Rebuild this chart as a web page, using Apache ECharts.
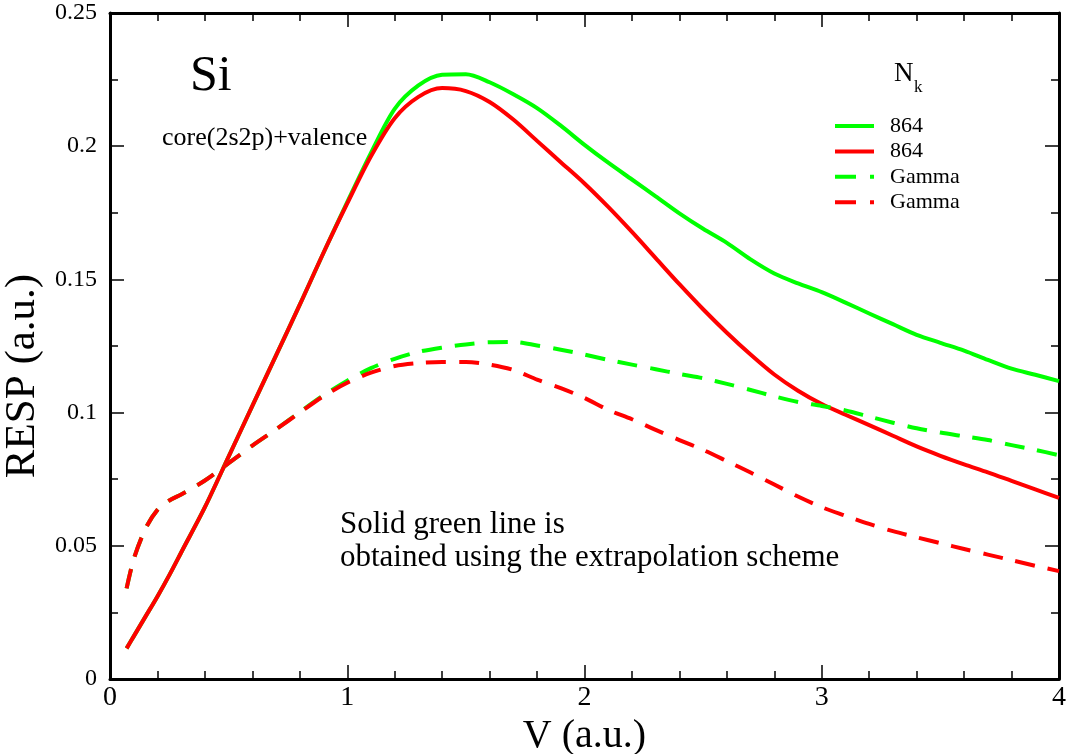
<!DOCTYPE html>
<html>
<head>
<meta charset="utf-8">
<title>Si response</title>
<script src="https://cdn.jsdelivr.net/npm/echarts@6/dist/echarts.min.js"></script>
<style>
  html, body { margin: 0; padding: 0; background: #fff; }
  #chart { width: 1071px; height: 754px; }
</style>
</head>
<body>
<div id="chart"></div>
<script>
// Velocity grid (a.u.)
const V = [0.07, 0.1, 0.15, 0.2, 0.25, 0.3, 0.4, 0.5, 0.6, 0.7, 0.8, 0.9,
  1.0, 1.1, 1.2, 1.3, 1.4, 1.5, 1.6, 1.7, 1.8, 1.9,
  2.0, 2.1, 2.2, 2.3, 2.4, 2.5, 2.6, 2.7, 2.8, 2.9,
  3.0, 3.1, 3.2, 3.3, 3.4, 3.5, 3.6, 3.7, 3.8, 3.9, 4.0];

// 864 k-points, extrapolated (solid green)
const resp864Extrap = [0.0115, 0.016, 0.0235, 0.031, 0.039, 0.0475, 0.0645, 0.0835, 0.1025, 0.1215, 0.1405, 0.160,
  0.179, 0.1975, 0.2140, 0.2228, 0.2268, 0.2270, 0.2240, 0.2195, 0.2143, 0.2077,
  0.2005, 0.1938, 0.1875, 0.1812, 0.1748, 0.1690, 0.1637, 0.1575, 0.1522, 0.1485,
  0.1452, 0.1413, 0.1372, 0.1332, 0.1292, 0.1262, 0.1233, 0.1198, 0.1165, 0.1142, 0.1118];

// 864 k-points (solid red)
const resp864 = [0.0115, 0.016, 0.0235, 0.031, 0.039, 0.0475, 0.0645, 0.0835, 0.1025, 0.1215, 0.1405, 0.160,
  0.1785, 0.1962, 0.2105, 0.2185, 0.2218, 0.2207, 0.2166, 0.2100, 0.2020, 0.1940,
  0.1860, 0.1772, 0.1678, 0.1580, 0.1482, 0.1388, 0.1300, 0.1218, 0.1143, 0.1082,
  0.1032, 0.0992, 0.0953, 0.0913, 0.0873, 0.0838, 0.0806, 0.0776, 0.0744, 0.0712, 0.0680];

// Gamma point only (dashed green)
const respGammaGreen = [0.034, 0.045, 0.0565, 0.0635, 0.067, 0.0693, 0.0745, 0.081, 0.0876, 0.0937, 0.1002, 0.1065,
  0.1120, 0.1167, 0.1202, 0.1228, 0.1244, 0.1256, 0.1264, 0.1265, 0.1252, 0.1236,
  0.1218, 0.1198, 0.1180, 0.1163, 0.1145, 0.1129, 0.1108, 0.1085, 0.1061, 0.1040,
  0.1025, 0.1008, 0.0985, 0.0962, 0.0941, 0.0925, 0.0911, 0.0897, 0.0878, 0.0860, 0.0840];

// Gamma point only (dashed red)
const respGammaRed = [0.034, 0.045, 0.0565, 0.0635, 0.067, 0.0693, 0.0745, 0.081, 0.0876, 0.0937, 0.1000, 0.1062,
  0.1112, 0.1150, 0.1175, 0.1186, 0.1190, 0.1190, 0.1180, 0.1160, 0.1124, 0.1092,
  0.1055, 0.1010, 0.0975, 0.0935, 0.0897, 0.0860, 0.0818, 0.0775, 0.0730, 0.0685,
  0.0645, 0.0613, 0.0582, 0.0555, 0.0532, 0.0510, 0.0488, 0.0467, 0.0446, 0.0425, 0.0405];

const seriesNames = ['864 (extrapolated)', '864', 'Gamma (green)', 'Gamma'];
const legendLabels = ['864', '864', 'Gamma', 'Gamma'];

const FONT = 'Liberation Serif';
const GREEN = '#00ff00';
const RED = '#ff0000';
const DASH = [20, 13];

function pairs(ys) { return V.map((v, i) => [v, ys[i]]); }

function lineSeries(name, ys, color, dashed) {
  return {
    name: name,
    type: 'line',
    data: pairs(ys),
    symbol: 'none',
    smooth: 0.3,
    xAxisIndex: 0,
    yAxisIndex: 0,
    lineStyle: { color: color, width: 4, type: dashed ? DASH : 'solid', cap: 'butt', join: 'round' },
    itemStyle: { color: color },
    emphasis: { disabled: true },
    animation: false
  };
}

function frameAxis(pos, isX, showLabel) {
  return {
    type: 'value',
    position: pos,
    min: 0,
    max: isX ? 4 : 0.25,
    interval: isX ? 1 : 0.05,
    axisLine: { show: true, onZero: false, lineStyle: { color: '#000', width: 3 } },
    axisTick: { show: true, inside: true, length: 14, lineStyle: { color: '#000', width: 1.5 } },
    minorTick: { show: true, splitNumber: isX ? 5 : 2, length: 8, lineStyle: { color: '#000', width: 1.5 } },
    splitLine: { show: false },
    minorSplitLine: { show: false },
    axisLabel: { show: showLabel, color: '#000', fontFamily: FONT }
  };
}

const xBottom = frameAxis('bottom', true, true);
xBottom.axisLabel.fontSize = 28;
xBottom.axisLabel.margin = 5;
xBottom.name = 'V (a.u.)';
xBottom.nameLocation = 'middle';
xBottom.nameGap = 32;
xBottom.nameTextStyle = { fontFamily: FONT, fontSize: 40, color: '#000' };

const xTop = frameAxis('top', true, false);

const yLeft = frameAxis('left', false, true);
yLeft.axisLabel.fontSize = 24;
yLeft.axisLabel.margin = 13;
yLeft.name = 'RESP (a.u.)';
yLeft.nameLocation = 'middle';
yLeft.nameGap = 58;
yLeft.nameTextStyle = { fontFamily: FONT, fontSize: 43, color: '#000', padding: [0, 60, 0, 0] };

const yRight = frameAxis('right', false, false);

const chart = echarts.init(document.getElementById('chart'), null, { renderer: 'canvas' });

chart.setOption({
  backgroundColor: '#fff',
  animation: false,
  grid: { left: 110, right: 12, top: 13, bottom: 75, containLabel: false, outerBoundsMode: 'none' },
  xAxis: [xBottom, xTop],
  yAxis: [yLeft, yRight],
  legend: {
    orient: 'vertical',
    left: 833,
    top: 115,
    padding: 0,
    itemWidth: 39,
    itemHeight: 22,
    itemGap: 3.4,
    selectedMode: false,
    itemStyle: { opacity: 0 },
    lineStyle: { width: 4 },
    textStyle: { fontFamily: FONT, fontSize: 22, color: '#000', lineHeight: 22, padding: [0, 0, 0, 11] },
    formatter: function (name) { return legendLabels[seriesNames.indexOf(name)]; },
    data: [
      { name: seriesNames[0] },
      { name: seriesNames[1] },
      { name: seriesNames[2], lineStyle: { type: [21, 14], width: 4 } },
      { name: seriesNames[3], lineStyle: { type: [21, 14], width: 4 } }
    ]
  },
  graphic: [
    { type: 'text', left: 894, top: 60, silent: true,
      style: { text: 'N', fontFamily: FONT, fontSize: 27, fill: '#000' } },
    { type: 'text', left: 914, top: 79, silent: true,
      style: { text: 'k', fontFamily: FONT, fontSize: 17, fill: '#000' } },
    { type: 'text', left: 190, top: 52, silent: true,
      style: { text: 'Si', fontFamily: FONT, fontSize: 50, fill: '#000' } },
    { type: 'text', left: 162, top: 125, silent: true,
      style: { text: 'core(2s2p)+valence', fontFamily: FONT, fontSize: 26, fill: '#000' } },
    { type: 'text', left: 340, top: 508, silent: true,
      style: { text: 'Solid green line is\nobtained using the extrapolation scheme',
        fontFamily: FONT, fontSize: 31, lineHeight: 33, fill: '#000' } }
  ],
  series: [
    lineSeries(seriesNames[0], resp864Extrap, GREEN, false),
    lineSeries(seriesNames[1], resp864, RED, false),
    lineSeries(seriesNames[2], respGammaGreen, GREEN, true),
    lineSeries(seriesNames[3], respGammaRed, RED, true)
  ]
});
</script>
</body>
</html>
